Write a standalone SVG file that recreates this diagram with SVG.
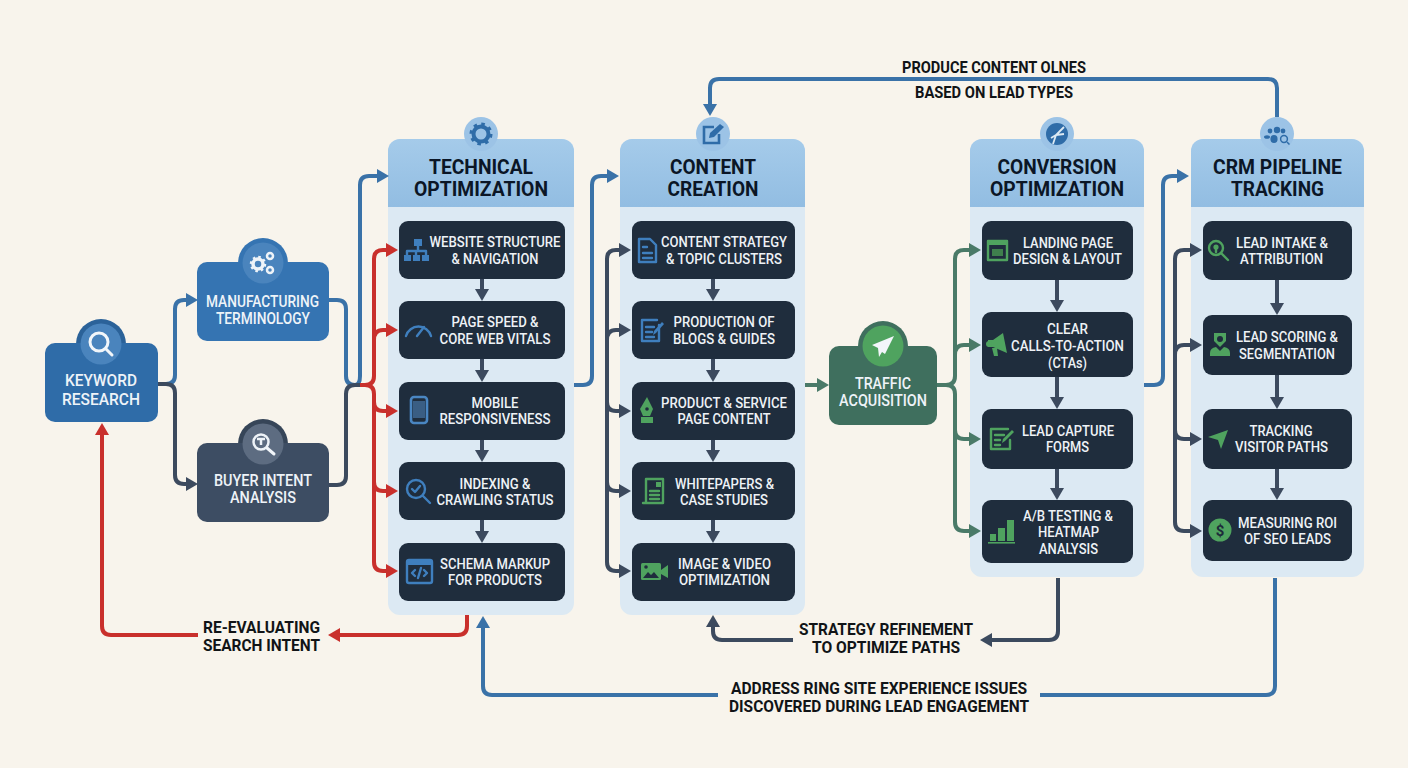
<svg xmlns="http://www.w3.org/2000/svg" width="1408" height="768" viewBox="0 0 1408 768">
<style>
text{font-family:Roboto,"Liberation Sans",sans-serif;text-anchor:middle}
.n{font-size:16.5px;font-weight:500;fill:#eef3f8}
.i{font-size:15.5px;font-weight:500;fill:#eef2f6}
.h{font-size:20.500px;font-weight:700;fill:#0b1626}
.a{font-size:16px;font-weight:700;fill:#111417}
.box{fill:#1f2d3d}
.body{fill:#dce9f3}
.head{fill:url(#hg)}
.bub{fill:#9cc3e6}
.c{fill:none;stroke-width:4;stroke-linejoin:round}
.blue{stroke:#3a72a8}.red{stroke:#c9302c}.dark{stroke:#3c4a5e}.green{stroke:#4a7a68}
.ib{fill:none;stroke:#3f7fbe;stroke-width:2.4;stroke-linecap:round;stroke-linejoin:round}
.ibf{fill:#3f7fbe}
.ig{fill:none;stroke:#4fa35f;stroke-width:2.4;stroke-linecap:round;stroke-linejoin:round}
.igf{fill:#4fa35f}
.w{fill:none;stroke:#f2f6fa;stroke-width:3;stroke-linecap:round}
</style>
<defs>
<linearGradient id="hg" x1="0" y1="0" x2="0" y2="1"><stop offset="0" stop-color="#a5cbea"/><stop offset="1" stop-color="#92bde2"/></linearGradient>
<marker id="mb" viewBox="0 0 12 14" refX="1" refY="7" markerWidth="12" markerHeight="14" markerUnits="userSpaceOnUse" orient="auto"><path d="M0 0L12 7L0 14Z" fill="#3a72a8"/></marker>
<marker id="mr" viewBox="0 0 12 14" refX="1" refY="7" markerWidth="12" markerHeight="14" markerUnits="userSpaceOnUse" orient="auto"><path d="M0 0L12 7L0 14Z" fill="#c9302c"/></marker>
<marker id="md" viewBox="0 0 12 14" refX="1" refY="7" markerWidth="12" markerHeight="14" markerUnits="userSpaceOnUse" orient="auto"><path d="M0 0L12 7L0 14Z" fill="#3c4a5e"/></marker>
<marker id="mg" viewBox="0 0 12 14" refX="1" refY="7" markerWidth="12" markerHeight="14" markerUnits="userSpaceOnUse" orient="auto"><path d="M0 0L12 7L0 14Z" fill="#4a7a68"/></marker>
</defs>
<rect width="1408" height="768" fill="#f8f4ec"/>

<g id="panel-technical"><rect class="body" x="388" y="139" width="186" height="476" rx="12"/><path class="head" d="M388 207V151a12 12 0 0 1 12-12h162a12 12 0 0 1 12 12v56z"/><circle class="bub" cx="481" cy="134" r="17"/><circle cx="481" cy="134" r="7.500" fill="none" stroke="#2f6ca8" stroke-width="4"/><circle cx="481" cy="134" r="10" fill="none" stroke="#2f6ca8" stroke-width="3" stroke-dasharray="3.500 4.350"/>
<text class="h" x="481" y="173.500" textLength="104" lengthAdjust="spacingAndGlyphs">TECHNICAL</text><text class="h" x="481" y="196" textLength="134" lengthAdjust="spacingAndGlyphs">OPTIMIZATION</text></g>
<g id="panel-content"><rect class="body" x="620" y="139" width="185" height="476" rx="12"/><path class="head" d="M620 207V151a12 12 0 0 1 12-12h161a12 12 0 0 1 12 12v56z"/><circle class="bub" cx="713" cy="134" r="17"/><path d="M714 127h-10v16h15v-9" fill="none" stroke="#2f6ca8" stroke-width="2.600"/><path d="M709 138l1-5 10-9 4 3-10 10z" fill="#2f6ca8"/>
<text class="h" x="713" y="173.500" textLength="86" lengthAdjust="spacingAndGlyphs">CONTENT</text><text class="h" x="713" y="196" textLength="91" lengthAdjust="spacingAndGlyphs">CREATION</text></g>
<g id="panel-conversion"><rect class="body" x="970" y="139" width="174" height="438" rx="12"/><path class="head" d="M970 207V151a12 12 0 0 1 12-12h150a12 12 0 0 1 12 12v56z"/><circle class="bub" cx="1057" cy="134" r="17"/><circle cx="1057" cy="134" r="11" fill="#2f6ca8"/><path d="M1053 144l3-9 8-8M1056 135l8-1M1056 135l-5 3" fill="none" stroke="#dce9f3" stroke-width="1.800"/>
<text class="h" x="1057" y="173.500" textLength="119" lengthAdjust="spacingAndGlyphs">CONVERSION</text><text class="h" x="1057" y="196" textLength="134" lengthAdjust="spacingAndGlyphs">OPTIMIZATION</text></g>
<g id="panel-crm"><rect class="body" x="1191" y="139" width="173" height="438" rx="12"/><path class="head" d="M1191 207V151a12 12 0 0 1 12-12h149a12 12 0 0 1 12 12v56z"/><circle class="bub" cx="1277" cy="134" r="17"/><circle cx="1277" cy="130" r="3.200" fill="#2f6ca8"/><circle cx="1270" cy="131" r="2.400" fill="#2f6ca8"/><circle cx="1283" cy="131" r="2.400" fill="#2f6ca8"/><ellipse cx="1274" cy="139" rx="3.600" ry="4" fill="#2f6ca8"/><ellipse cx="1267" cy="137" rx="3" ry="1.800" fill="#2f6ca8"/><circle cx="1284" cy="139" r="3.400" fill="none" stroke="#2f6ca8" stroke-width="1.500"/><path d="M1287 142l2.500 2.500" stroke="#2f6ca8" stroke-width="1.500"/>
<text class="h" x="1277.500" y="173.500" textLength="129" lengthAdjust="spacingAndGlyphs">CRM PIPELINE</text><text class="h" x="1277.500" y="196" textLength="93" lengthAdjust="spacingAndGlyphs">TRACKING</text></g>

<g id="connectors">
<path class="c blue" d="M158 384h8q9 0 9-9v-66q0-9 9-9h3" marker-end="url(#mb)"/>
<path class="c dark" d="M158 384h8q9 0 9 9v82q0 9 9 9h3" marker-end="url(#md)"/>
<path class="c blue" d="M329 300h8q9 0 9 9v67q0 9 9 9h0q5 0 5-9V185q0-9 9-9h9" marker-end="url(#mb)"/>
<path class="c dark" d="M329 485h8q9 0 9-9v-82q0-9 9-9h5"/>
<path class="c red" d="M360 385h5q9 0 9-9V259q0-9 9-9h4" marker-end="url(#mr)"/>
<path class="c red" d="M374 340q0-10 9-10h4" marker-end="url(#mr)"/>
<path class="c red" d="M360 385h5q9 0 9 9v168q0 9 9 9h4" marker-end="url(#mr)"/>
<path class="c red" d="M374 402q0 9 9 9h4" marker-end="url(#mr)"/>
<path class="c red" d="M374 482q0 9 9 9h4" marker-end="url(#mr)"/>
<path class="c blue" d="M574 385h9q9 0 9-9V185q0-9 9-9h7" marker-end="url(#mb)"/>
<path class="c dark" d="M607 400V259q0-9 9-9h4" marker-end="url(#md)"/>
<path class="c dark" d="M607 400V562q0 9 9 9h4" marker-end="url(#md)"/>
<path class="c dark" d="M607 340q0-10 9-10h4" marker-end="url(#md)"/>
<path class="c dark" d="M607 402q0 9 9 9h4" marker-end="url(#md)"/>
<path class="c dark" d="M607 482q0 9 9 9h4" marker-end="url(#md)"/>
<path class="c green" d="M805 385h13" marker-end="url(#mg)"/>
<path class="c green" d="M937 385h9q9 0 9-9V259q0-9 9-9h6" marker-end="url(#mg)"/>
<path class="c green" d="M955 355q0-10 9-10h6" marker-end="url(#mg)"/>
<path class="c green" d="M937 385h9q9 0 9 9v128q0 9 9 9h6" marker-end="url(#mg)"/>
<path class="c green" d="M955 430q0 9 9 9h6" marker-end="url(#mg)"/>
<path class="c blue" d="M1144 385h10q9 0 9-9V185q0-9 9-9h6" marker-end="url(#mb)"/>
<path class="c dark" d="M1175 400V259q0-9 9-9h7" marker-end="url(#md)"/>
<path class="c dark" d="M1175 400V522q0 9 9 9h7" marker-end="url(#md)"/>
<path class="c dark" d="M1175 355q0-10 9-10h7" marker-end="url(#md)"/>
<path class="c dark" d="M1175 430q0 9 9 9h7" marker-end="url(#md)"/>
<path class="c blue" d="M1277 117V88q0-9-9-9H719q-9 0-9 9v17" marker-end="url(#mb)"/>
<path class="c red" d="M467 615v11q0 9-9 9H339" marker-end="url(#mr)"/>
<path class="c red" d="M198 635H111q-9 0-9-9V434" marker-end="url(#mr)"/>
<path class="c dark" d="M1058 578v53q0 9-9 9h-58" marker-end="url(#md)"/>
<path class="c dark" d="M793 640H722q-9 0-9-9v-5" marker-end="url(#md)"/>
<path class="c blue" d="M1275 578v108q0 9-9 9h-226"/>
<path class="c blue" d="M718 695H492q-9 0-9-9v-59" marker-end="url(#mb)"/>
<path class="c dark" d="M482 279v11" marker-end="url(#md)"/><path class="c dark" d="M482 359v12" marker-end="url(#md)"/><path class="c dark" d="M482 440v11" marker-end="url(#md)"/><path class="c dark" d="M482 520v12" marker-end="url(#md)"/>
<path class="c dark" d="M713 279v11" marker-end="url(#md)"/><path class="c dark" d="M713 359v12" marker-end="url(#md)"/><path class="c dark" d="M713 440v11" marker-end="url(#md)"/><path class="c dark" d="M713 520v12" marker-end="url(#md)"/>
<path class="c dark" d="M1057 280v21" marker-end="url(#md)"/><path class="c dark" d="M1057 377v21" marker-end="url(#md)"/><path class="c dark" d="M1057 469v20" marker-end="url(#md)"/>
<path class="c dark" d="M1277 280v24" marker-end="url(#md)"/><path class="c dark" d="M1277 375v23" marker-end="url(#md)"/><path class="c dark" d="M1277 469v20" marker-end="url(#md)"/>
</g>

<g id="node-keyword"><circle cx="101" cy="344" r="25" fill="#2b6299"/><rect x="45" y="343" width="113" height="79" rx="10" fill="#2f6ca8"/><circle cx="101" cy="344" r="20.500" fill="#4a84bd"/><circle cx="99" cy="342" r="9" class="w"/><path d="M106 349l6 6" class="w"/>
<text class="n" x="101" y="386" textLength="72" lengthAdjust="spacingAndGlyphs">KEYWORD</text><text class="n" x="101" y="405" textLength="78" lengthAdjust="spacingAndGlyphs">RESEARCH</text></g>
<g id="node-manufacturing"><circle cx="263" cy="263" r="25" fill="#3574b2"/><rect x="197" y="262" width="132" height="79" rx="10" fill="#3574b2"/><circle cx="263" cy="263" r="20.500" fill="#4a84bd"/><circle cx="258" cy="264" r="5" fill="none" stroke="#eef3f8" stroke-width="3.500"/><circle cx="258" cy="264" r="7" fill="none" stroke="#eef3f8" stroke-width="2.500" stroke-dasharray="2.500 3"/><circle cx="270" cy="256" r="3" fill="none" stroke="#eef3f8" stroke-width="2.500"/><circle cx="270" cy="270" r="3" fill="none" stroke="#eef3f8" stroke-width="2.500"/>
<text class="n" x="262.500" y="307" textLength="113" lengthAdjust="spacingAndGlyphs">MANUFACTURING</text><text class="n" x="263" y="324" textLength="94" lengthAdjust="spacingAndGlyphs">TERMINOLOGY</text></g>
<g id="node-buyer"><circle cx="263" cy="444" r="25" fill="#364558"/><rect x="197" y="443" width="132" height="79" rx="10" fill="#3d4d63"/><circle cx="263" cy="444" r="20.500" fill="#5d6c81"/><circle cx="261" cy="442" r="7.500" fill="none" stroke="#eef3f8" stroke-width="2.500"/><path d="M267 448l7 6" class="w"/><path d="M257 439h8M261 439v6" fill="none" stroke="#eef3f8" stroke-width="2.500"/>
<text class="n" x="263" y="486" textLength="98" lengthAdjust="spacingAndGlyphs">BUYER INTENT</text><text class="n" x="263" y="503" textLength="66" lengthAdjust="spacingAndGlyphs">ANALYSIS</text></g>
<g id="node-traffic"><circle cx="883" cy="346" r="25" fill="#3f6f5e"/><rect x="829" y="346" width="108" height="79" rx="10" fill="#3f6f5e"/><circle cx="883" cy="346" r="20.500" fill="#4fa35f"/><path d="M894 336L872 345l6 3 1 9 3-5 3 2z" fill="#f2f6fa"/>
<text class="n" x="883" y="389" textLength="56" lengthAdjust="spacingAndGlyphs">TRAFFIC</text><text class="n" x="883" y="406" textLength="88" lengthAdjust="spacingAndGlyphs">ACQUISITION</text></g>

<g id="t1"><rect class="box" x="399" y="221" width="166" height="58" rx="9"/><g class="ibf"><rect x="414" y="239" width="8" height="7"/><rect x="404" y="255" width="7" height="6"/><rect x="413" y="255" width="7" height="6"/><rect x="422" y="255" width="7" height="6"/></g><path class="ib" d="M418 246v5M407 255v-4h19v4M416 251v4" stroke-width="1.600"/>
<text class="i" x="495" y="246.500" textLength="131" lengthAdjust="spacingAndGlyphs">WEBSITE STRUCTURE</text><text class="i" x="495" y="263.500" textLength="87" lengthAdjust="spacingAndGlyphs">&amp; NAVIGATION</text></g>
<g id="t2"><rect class="box" x="399" y="301" width="166" height="58" rx="9"/><path class="ib" d="M406 336a13 13 0 0 1 25 0" stroke-width="3"/><path class="ib" d="M417 336l7-9"/>
<text class="i" x="495" y="327" textLength="87" lengthAdjust="spacingAndGlyphs">PAGE SPEED &amp;</text><text class="i" x="495" y="344" textLength="111" lengthAdjust="spacingAndGlyphs">CORE WEB VITALS</text></g>
<g id="t3"><rect class="box" x="399" y="382" width="166" height="58" rx="9"/><rect x="411" y="397" width="16" height="26" rx="3" fill="#1f2d3d" stroke="#4a86c2" stroke-width="2.600"/><rect x="413" y="401" width="12" height="17" fill="#3a5e84"/>
<text class="i" x="495" y="408" textLength="47" lengthAdjust="spacingAndGlyphs">MOBILE</text><text class="i" x="495" y="424" textLength="111" lengthAdjust="spacingAndGlyphs">RESPONSIVENESS</text></g>
<g id="t4"><rect class="box" x="399" y="462" width="166" height="58" rx="9"/><circle class="ib" cx="416" cy="489" r="9"/><path class="ib" d="M423 496l7 7M412 489l3 3 5-6"/>
<text class="i" x="495" y="489" textLength="71" lengthAdjust="spacingAndGlyphs">INDEXING &amp;</text><text class="i" x="495" y="505" textLength="117" lengthAdjust="spacingAndGlyphs">CRAWLING STATUS</text></g>
<g id="t5"><rect class="box" x="399" y="543" width="166" height="58" rx="9"/><rect class="ib" x="407" y="560" width="25" height="23" rx="2"/><path d="M407 560h25v5h-25z" fill="#3f7fbe"/><path class="ib" d="M415 570l-3 3 3 3M424 570l3 3-3 3M421 568l-3 10" stroke-width="1.600"/>
<text class="i" x="495" y="569" textLength="110" lengthAdjust="spacingAndGlyphs">SCHEMA MARKUP</text><text class="i" x="495" y="585" textLength="94" lengthAdjust="spacingAndGlyphs">FOR PRODUCTS</text></g>

<g id="c1"><rect class="box" x="632" y="221" width="163" height="58" rx="9"/><path class="ib" d="M639 239h11l6 6v17h-17zM643 247h4M643 253h9M643 258h9"/>
<text class="i" x="724" y="246.500" textLength="126" lengthAdjust="spacingAndGlyphs">CONTENT STRATEGY</text><text class="i" x="724" y="263.500" textLength="116" lengthAdjust="spacingAndGlyphs">&amp; TOPIC CLUSTERS</text></g>
<g id="c2"><rect class="box" x="632" y="301" width="163" height="58" rx="9"/><path class="ib" d="M659 325v16h-17v-21h15M646 327h8M646 332h6M646 337h8"/><path d="M653 335l1-4 8-9 2 2-8 9z" fill="#3f7fbe"/>
<text class="i" x="724" y="327" textLength="101" lengthAdjust="spacingAndGlyphs">PRODUCTION OF</text><text class="i" x="724" y="344" textLength="102" lengthAdjust="spacingAndGlyphs">BLOGS &amp; GUIDES</text></g>
<g id="c3"><rect class="box" x="632" y="382" width="163" height="58" rx="9"/><path class="igf" d="M647 397l6 12-3 7h-7l-3-7z"/><circle cx="647" cy="409" r="1.800" fill="#1f2d3d"/><rect class="igf" x="641" y="417" width="12" height="6"/>
<text class="i" x="724" y="408" textLength="126" lengthAdjust="spacingAndGlyphs">PRODUCT &amp; SERVICE</text><text class="i" x="724" y="424" textLength="93" lengthAdjust="spacingAndGlyphs">PAGE CONTENT</text></g>
<g id="c4"><rect class="box" x="632" y="462" width="163" height="58" rx="9"/><path class="ig" d="M646 479h17v24h-20M646 479v23M650 491h9M650 495h9M650 499h9"/><rect class="igf" x="656" y="482" width="5" height="5"/>
<text class="i" x="724.500" y="489" textLength="99" lengthAdjust="spacingAndGlyphs">WHITEPAPERS &amp;</text><text class="i" x="724" y="505" textLength="88" lengthAdjust="spacingAndGlyphs">CASE STUDIES</text></g>
<g id="c5"><rect class="box" x="632" y="543" width="163" height="58" rx="9"/><rect class="igf" x="641" y="563" width="20" height="17" rx="1.500"/><path class="igf" d="M661 570l7-5v13l-7-4z"/><path d="M643 578l5-6 3 3 3-3 5 6z" fill="#1f2d3d"/><circle cx="646" cy="567" r="1.800" fill="#1f2d3d"/>
<text class="i" x="724.500" y="569" textLength="93" lengthAdjust="spacingAndGlyphs">IMAGE &amp; VIDEO</text><text class="i" x="724.500" y="585" textLength="91" lengthAdjust="spacingAndGlyphs">OPTIMIZATION</text></g>

<g id="v1"><rect class="box" x="982" y="221" width="151" height="59" rx="9"/><rect class="ig" x="988" y="241" width="19" height="19" stroke-width="2"/><path d="M987 240h21v5h-21z" fill="#4fa35f"/><rect x="992" y="249" width="11" height="7" fill="#3f7f4d"/>
<text class="i" x="1068" y="247.500" textLength="90" lengthAdjust="spacingAndGlyphs">LANDING PAGE</text><text class="i" x="1067.500" y="264" textLength="109" lengthAdjust="spacingAndGlyphs">DESIGN &amp; LAYOUT</text></g>
<g id="v2"><rect class="box" x="982" y="312" width="151" height="65" rx="9"/><path class="igf" d="M1003 333l4 20-14-6h-5v-7h5z"/><circle class="igf" cx="989" cy="344" r="3"/><path class="igf" d="M992 348h5l1 8h-4z"/>
<text class="i" x="1067.500" y="334" textLength="41" lengthAdjust="spacingAndGlyphs">CLEAR</text><text class="i" x="1067.500" y="351" textLength="113" lengthAdjust="spacingAndGlyphs">CALLS-TO-ACTION</text><text class="i" x="1067.500" y="368" textLength="39" lengthAdjust="spacingAndGlyphs">(CTAs)</text></g>
<g id="v3"><rect class="box" x="982" y="409" width="151" height="60" rx="9"/><path class="ig" d="M1010 440v9h-19v-20h17M995 435h9M995 440h5M995 445h5"/><path d="M1002 443l1-4 9-9 2 2-9 9z" fill="#4fa35f"/>
<text class="i" x="1068" y="436" textLength="92" lengthAdjust="spacingAndGlyphs">LEAD CAPTURE</text><text class="i" x="1067.500" y="452" textLength="43" lengthAdjust="spacingAndGlyphs">FORMS</text></g>
<g id="v4"><rect class="box" x="982" y="500" width="151" height="63" rx="9"/><g class="igf"><rect x="990" y="534" width="6" height="7"/><rect x="998" y="528" width="7" height="13"/><rect x="1007" y="520" width="7" height="21"/><rect x="988" y="542" width="27" height="1.600"/></g>
<text class="i" x="1068" y="521" textLength="90" lengthAdjust="spacingAndGlyphs">A/B TESTING &amp;</text><text class="i" x="1068.500" y="537" textLength="61" lengthAdjust="spacingAndGlyphs">HEATMAP</text><text class="i" x="1068.500" y="554" textLength="59" lengthAdjust="spacingAndGlyphs">ANALYSIS</text></g>

<g id="r1"><rect class="box" x="1203" y="221" width="149" height="59" rx="9"/><circle class="ig" cx="1216" cy="248" r="7"/><path class="ig" d="M1221 253l7 7" stroke-width="3"/><circle class="igf" cx="1216" cy="247" r="2.600"/><path class="ig" d="M1216 248v4" stroke-width="2"/>
<text class="i" x="1282" y="247.500" textLength="92" lengthAdjust="spacingAndGlyphs">LEAD INTAKE &amp;</text><text class="i" x="1281.500" y="264" textLength="83" lengthAdjust="spacingAndGlyphs">ATTRIBUTION</text></g>
<g id="r2"><rect class="box" x="1203" y="315" width="149" height="60" rx="9"/><path class="igf" d="M1214 333h12v8l-6 6-6-6z"/><circle cx="1220" cy="339" r="3" fill="#1f2d3d"/><path class="igf" d="M1210 356v-3q0-5 6-6l4 4 4-4q6 1 6 6v3z"/>
<text class="i" x="1287" y="342" textLength="102" lengthAdjust="spacingAndGlyphs">LEAD SCORING &amp;</text><text class="i" x="1287" y="359" textLength="96" lengthAdjust="spacingAndGlyphs">SEGMENTATION</text></g>
<g id="r3"><rect class="box" x="1203" y="409" width="149" height="60" rx="9"/><path class="igf" d="M1228 430l-20 7 10 3 3 9z"/>
<text class="i" x="1281" y="436" textLength="63" lengthAdjust="spacingAndGlyphs">TRACKING</text><text class="i" x="1281.500" y="452" textLength="93" lengthAdjust="spacingAndGlyphs">VISITOR PATHS</text></g>
<g id="r4"><rect class="box" x="1203" y="500" width="149" height="61" rx="9"/><circle class="igf" cx="1220" cy="530" r="11.500"/><text x="1220" y="535.500" font-size="15" font-weight="700" fill="#1d2b3a">$</text>
<text class="i" x="1287.500" y="528" textLength="99" lengthAdjust="spacingAndGlyphs">MEASURING ROI</text><text class="i" x="1287.500" y="544" textLength="87" lengthAdjust="spacingAndGlyphs">OF SEO LEADS</text></g>

<g id="labels">
<text class="a" x="994" y="73" textLength="184" lengthAdjust="spacingAndGlyphs">PRODUCE CONTENT OLNES</text>
<text class="a" x="994" y="98" textLength="158" lengthAdjust="spacingAndGlyphs">BASED ON LEAD TYPES</text>
<text class="a" x="261.500" y="633" textLength="117" lengthAdjust="spacingAndGlyphs">RE-EVALUATING</text>
<text class="a" x="261.500" y="651" textLength="117" lengthAdjust="spacingAndGlyphs">SEARCH INTENT</text>
<text class="a" x="886" y="635" textLength="174" lengthAdjust="spacingAndGlyphs">STRATEGY REFINEMENT</text>
<text class="a" x="886" y="653" textLength="148" lengthAdjust="spacingAndGlyphs">TO OPTIMIZE PATHS</text>
<text class="a" x="879" y="694" textLength="296" lengthAdjust="spacingAndGlyphs">ADDRESS RING SITE EXPERIENCE ISSUES</text>
<text class="a" x="879" y="712" textLength="300" lengthAdjust="spacingAndGlyphs">DISCOVERED DURING LEAD ENGAGEMENT</text>
</g>
</svg>
